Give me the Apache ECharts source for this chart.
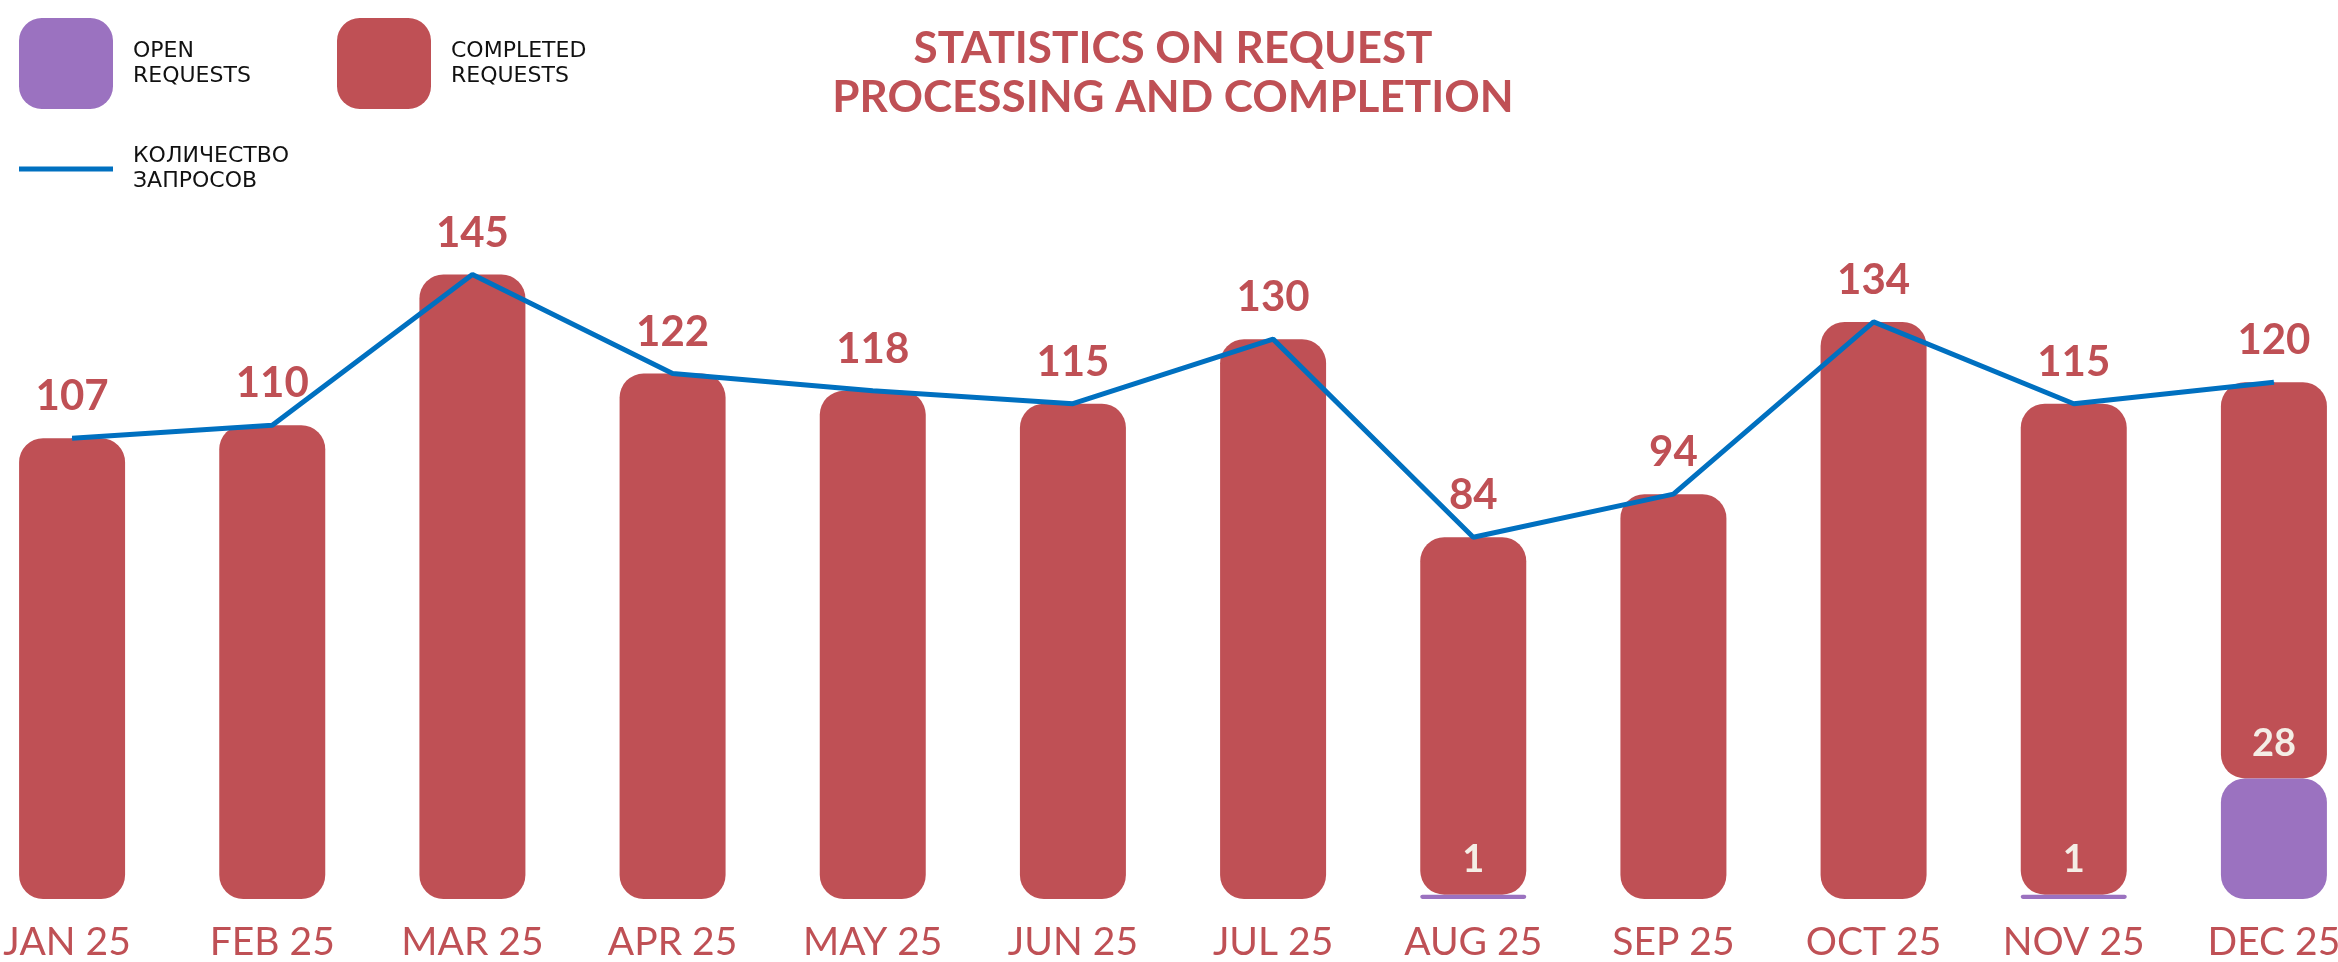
<!DOCTYPE html>
<html>
<head>
<meta charset="utf-8">
<script src="https://cdn.jsdelivr.net/npm/echarts@6/dist/echarts.min.js"></script>
<style>
  html, body { margin: 0; padding: 0; background: #fff; overflow: hidden; }
  /* chart is a bit wider than the page so the outer bars sit close to the edges */
  #chart { width: 2402px; height: 962px; margin-left: -28px; }
</style>
</head>
<body>
<div id="chart"></div>
<script>
// months on the x axis
const months = ['JAN 25', 'FEB 25', 'MAR 25', 'APR 25', 'MAY 25', 'JUN 25',
                'JUL 25', 'AUG 25', 'SEP 25', 'OCT 25', 'NOV 25', 'DEC 25'];
// open requests (bottom of the stack)
const openReq = [0, 0, 0, 0, 0, 0, 0, 1, 0, 0, 1, 28];
// completed requests (top of the stack)
const completedReq = [107, 110, 145, 122, 118, 115, 130, 83, 94, 134, 114, 92];
// total number of requests (line)
const totalReq = [107, 110, 145, 122, 118, 115, 130, 84, 94, 134, 115, 120];

const RED = '#BF5055';
const PURPLE = '#9B72C0';
const BLUE = '#0070C0';

const legendText = {
  fontFamily: 'DejaVu Sans', fontSize: 22, lineHeight: 25, color: '#111', padding: [0, 0, 0, 15]
};

let chart = echarts.init(document.getElementById('chart'));

chart.setOption({
  animation: false,
  title: {
    text: 'STATISTICS ON REQUEST\nPROCESSING AND COMPLETION',
    left: 'center',
    top: 24,
    padding: 0,
    textStyle: {
      fontFamily: 'Lato',
      fontWeight: 'bold',
      fontSize: 44,
      lineHeight: 49,
      color: RED
    }
  },
  legend: [
    {
      data: ['OPEN REQUESTS'],
      left: 47, top: 18, padding: 0,
      icon: 'roundRect', itemWidth: 94, itemHeight: 91,
      formatter: name => name.replace(' ', '\n'),
      textStyle: legendText
    },
    {
      data: ['COMPLETED REQUESTS'],
      left: 365, top: 18, padding: 0,
      icon: 'roundRect', itemWidth: 94, itemHeight: 91,
      formatter: name => name.replace(' ', '\n'),
      textStyle: legendText
    },
    {
      data: ['КОЛИЧЕСТВО ЗАПРОСОВ'],
      left: 47, top: 144, padding: 0,
      icon: 'rect', itemWidth: 94, itemHeight: 5,
      formatter: name => name.replace(' ', '\n'),
      textStyle: legendText
    }
  ],
  grid: {
    left: 0,
    right: 0,
    top: 253,
    bottom: 61,
    containLabel: false
  },
  xAxis: {
    type: 'category',
    // first label nudged a little left so it stays on the page
    data: months.map((m, i) => i === 0
      ? { value: m, textStyle: { padding: [0, 10, 0, 0] } }
      : m),
    axisLine: { show: false },
    axisTick: { show: false },
    axisLabel: {
      interval: 0,
      margin: 24,
      fontFamily: 'Lato',
      fontSize: 39,
      color: RED
    }
  },
  yAxis: {
    type: 'value',
    min: 0,
    max: 150,
    show: false,
    splitLine: { show: false }
  },
  series: [
    {
      name: 'OPEN REQUESTS',
      type: 'bar',
      stack: 'req',
      barWidth: 106,
      z: 3,
      data: openReq,
      itemStyle: { color: PURPLE, borderRadius: 24 },
      label: {
        show: true,
        position: 'top',
        distance: 16,
        formatter: p => (p.value ? p.value : ''),
        fontFamily: 'Lato',
        fontWeight: 'bold',
        fontSize: 38,
        color: '#F4EEE6'
      }
    },
    {
      name: 'COMPLETED REQUESTS',
      type: 'bar',
      stack: 'req',
      barWidth: 106,
      data: completedReq,
      itemStyle: { color: RED, borderRadius: 24 }
    },
    {
      name: 'КОЛИЧЕСТВО ЗАПРОСОВ',
      type: 'line',
      data: totalReq,
      symbol: 'circle',
      symbolSize: 1,
      itemStyle: { color: BLUE },
      lineStyle: { color: BLUE, width: 5 },
      label: {
        show: true,
        position: 'top',
        distance: 20,
        fontFamily: 'Lato',
        fontWeight: 'bold',
        fontSize: 42,
        color: RED
      }
    }
  ]
});
</script>
</body>
</html>
